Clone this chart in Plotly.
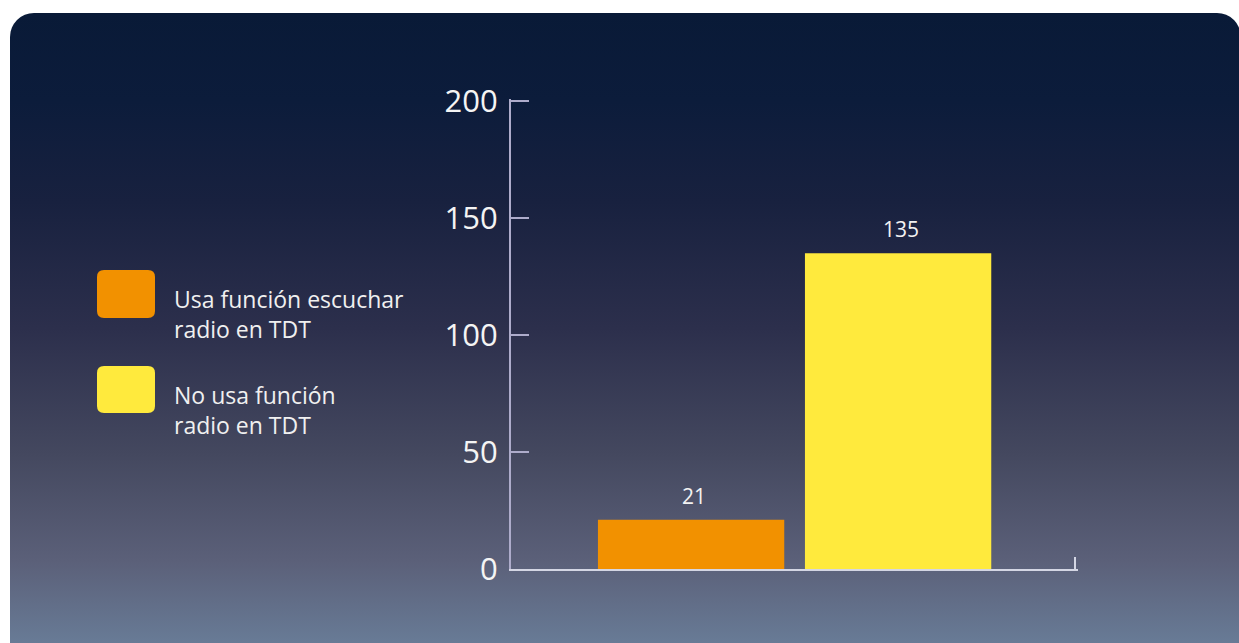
import base64
import plotly.graph_objects as go

# ---- data ----
categories = ["Usa función escuchar radio en TDT", "No usa función radio en TDT"]
legend_labels = ["Usa función escuchar<br>radio en TDT", "No usa función<br>radio en TDT"]
values = [21, 135]
bar_colors = ["#f29100", "#ffea3d"]
y_ticks = [0, 50, 100, 150, 200]

W, H = 1239, 643
Y_TOP = 200.9
L, R, T, B = 511, 1078, 99, 569  # plot area in pixels
PW, PH = R - L, B - T
FONT = "Open Sans"

def px(x):
    return (x - L) / PW

def py(y):
    return (B - y) / PH

# ---- gradient rounded background as inline svg ----
svg = f'''<svg xmlns="http://www.w3.org/2000/svg" width="{W}" height="{H}" viewBox="0 0 {W} {H}">
<defs><linearGradient id="g" gradientUnits="userSpaceOnUse" x1="0" y1="13" x2="0" y2="643">
<stop offset="0" stop-color="#091a37"/>
<stop offset="0.14" stop-color="#0c1c3b"/>
<stop offset="0.30" stop-color="#18213f"/>
<stop offset="0.50" stop-color="#2c2f4c"/>
<stop offset="0.70" stop-color="#44485f"/>
<stop offset="0.87" stop-color="#5b6079"/>
<stop offset="1" stop-color="#687b96"/>
</linearGradient></defs>
<rect width="{W}" height="{H}" fill="#ffffff"/>
<rect x="10" y="13" width="1231" height="660" rx="24" ry="24" fill="url(#g)"/>
</svg>'''
src = "data:image/svg+xml;base64," + base64.b64encode(svg.encode()).decode()

fig = go.Figure()
xs = list(range(len(values)))
fig.add_trace(go.Bar(
    x=xs, y=values, width=0.9, marker=dict(color=bar_colors, line=dict(width=0)),
    hovertext=categories, showlegend=False,
))

# value labels above bars
for x, v in zip(xs, values):
    fig.add_annotation(x=x, y=v, text=str(v), showarrow=False, yanchor="bottom", yshift=8,
                       xshift=3, font=dict(family=FONT, size=21, color="#f2f2f2"))

# custom legend with rounded swatches
def rrect(x0, y0, x1, y1, r):
    def P(x, y):
        return f"{px(x):.5f},{py(y):.5f}"
    return (f"M {P(x0 + r, y0)} L {P(x1 - r, y0)} Q {P(x1, y0)} {P(x1, y0 + r)} "
            f"L {P(x1, y1 - r)} Q {P(x1, y1)} {P(x1 - r, y1)} L {P(x0 + r, y1)} "
            f"Q {P(x0, y1)} {P(x0, y1 - r)} L {P(x0, y0 + r)} Q {P(x0, y0)} {P(x0 + r, y0)} Z")

leg_boxes = [(97, 270, 155, 318), (97, 366, 155, 413)]
for (x0, y0, x1, y1), c, lab in zip(leg_boxes, bar_colors, legend_labels):
    fig.add_shape(type="path", xref="paper", yref="paper", path=rrect(x0, y0, x1, y1, 7),
                  fillcolor=c, line=dict(width=0))
    fig.add_annotation(xref="paper", yref="paper", x=px(172), y=py((y0 + y1) / 2 + 20),
                       xanchor="left", yanchor="middle", align="left", showarrow=False,
                       text=lab, font=dict(family=FONT, size=23, color="#f0f0f0"))

x_lo, x_end = -0.87, 1.855
x_hi = x_end + 0.014
fig.update_layout(
    width=W, height=H,
    margin=dict(l=L, r=W - R, t=T, b=H - B, pad=0),
    paper_bgcolor="#ffffff", plot_bgcolor="rgba(0,0,0,0)",
    font=dict(family=FONT, color="#f2f2f2"),
    images=[dict(source=src, xref="paper", yref="paper", x=-L / PW, y=1 + T / PH,
                 sizex=W / PW, sizey=H / PH, xanchor="left", yanchor="top",
                 sizing="stretch", layer="below")],
    xaxis=dict(range=[x_lo, x_hi], showgrid=False, zeroline=False, showline=True,
               linecolor="#d4d6e4", linewidth=2, ticks="inside", ticklen=12, tickwidth=2,
               tickcolor="#d4d6e4", tickvals=[x_end], ticktext=[""], fixedrange=True),
    yaxis=dict(range=[0, Y_TOP], tickvals=y_ticks, showgrid=False, zeroline=False, showline=True,
               linecolor="#aeaccb", linewidth=2, ticks="inside", ticklen=18, tickwidth=2,
               tickcolor="#aeaccb", ticklabelstandoff=5,
               tickfont=dict(family=FONT, size=31, color="#f4f4f4"), fixedrange=True),
)

fig.write_html("out.html", config={"displayModeBar": False},
               post_script="document.body.style.margin='0';document.body.style.overflow='hidden';")
